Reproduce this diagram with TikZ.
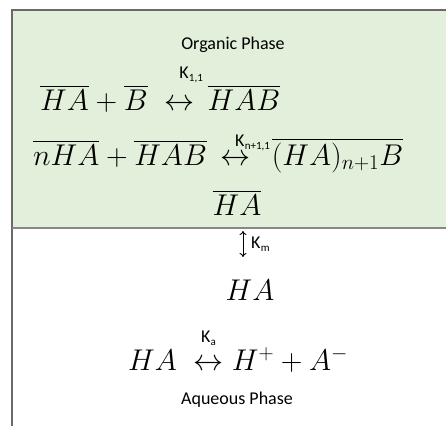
\RequirePackage{fix-cm}
\documentclass[tikz,border=0pt]{standalone}
\usepackage[no-math]{fontspec}
\setmainfont{Carlito}
\usepackage{amsmath, mathtools}
\usepackage{tikz}
\usetikzlibrary{arrows.meta, positioning}

\definecolor{orggreen}{RGB}{226, 239, 218}
\definecolor{framegray}{RGB}{105, 105, 105}

% constant name, as K with a small lowered index
\newcommand{\kname}[1]{K\kern0.3pt\raisebox{-3pt}{\fontsize{11}{11}\selectfont #1}}
% equilibrium arrow with its constant set above it
\newcommand{\kover}[2][0pt]{\overset{\mathrlap{\raisebox{#1}{\fontsize{18}{18}\selectfont\kname{#2}}}}{\leftrightarrow}}
\newcommand{\kmid}[2][0pt]{\overset{\mathclap{\raisebox{#1}{\fontsize{18}{18}\selectfont\kname{#2}}}}{\leftrightarrow}}

\begin{document}
\begin{tikzpicture}[
  x=1pt, y=-1pt,
  eqn/.style={inner sep=0pt, font=\fontsize{30}{36}\selectfont},
  phase/.style={inner sep=0pt, font=\fontsize{18}{22}\selectfont},
  klab/.style={inner sep=0pt, font=\fontsize{18}{18}\selectfont},
  frame/.style={draw=framegray, line width=1.5pt},
  split/.style={draw=framegray!80, line width=1.5pt}
]
  \useasboundingbox (0,0) rectangle (446,426);

  % organic layer
  \fill[orggreen] (12,10) rectangle (446,228);
  \draw[frame] (446,10) -- (12,10) -- (12,426);
  \draw[split] (12,228) -- (446,228);

  \node[phase] (orgtitle) at (233,45) {Organic Phase};
  \node[eqn, anchor=base west] (dimer) at (40,110)
    {$\overline{HA}+\overline{B}\;\kover[16pt]{1,1}\,\overline{HAB}$};
  \node[eqn, anchor=base west] (trimer) at (33,165)
    {$\overline{nHA}+\overline{HAB}\,\kover[3pt]{n+1,1}\;\,\overline{(HA)_{n+1}B}$};
  \node[eqn, anchor=base] (haorg) at (237,215) {$\overline{HA}$};

  % aqueous layer
  \coordinate (kmtop) at (243,231);
  \coordinate (kmbot) at (243,257);
  \draw[{Computer Modern Rightarrow[length=4pt,width=7pt]}-{Computer Modern Rightarrow[length=4pt,width=7pt]}, line width=0.9pt]
    (kmtop) -- (kmbot);
  \node[klab, anchor=base west] (kmlab) at (251,248) {\kname{m}};

  \node[eqn, anchor=base] (haaq) at (250,300) {$HA$};
  \node[eqn, anchor=base west] (acid) at (128,370)
    {$HA\;\kmid[12pt]{a}H^{+}+A^{-}$};
  \node[phase] (aqtitle) at (237,400) {Aqueous Phase};
\end{tikzpicture}
\end{document}
